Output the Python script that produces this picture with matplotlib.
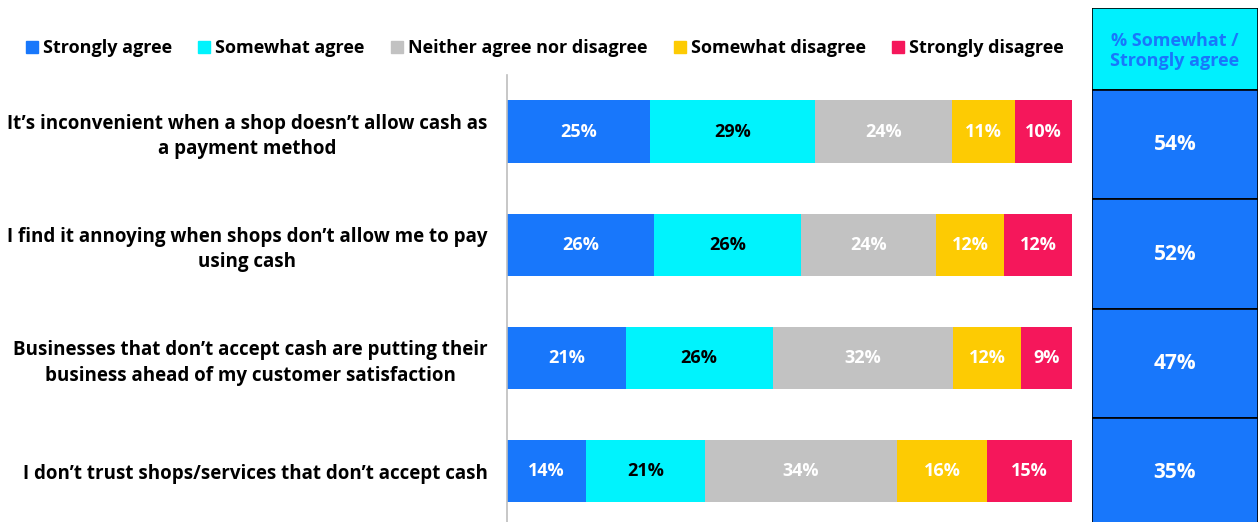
import matplotlib.pyplot as plt
from matplotlib.patches import Rectangle

plt.rcParams['font.family'] = ['Open Sans', 'DejaVu Sans']
plt.rcParams['font.weight'] = 'bold'

statements = [
    "It\u2019s inconvenient when a shop doesn\u2019t allow cash as\na payment method",
    "I find it annoying when shops don\u2019t allow me to pay\nusing cash",
    "Businesses that don\u2019t accept cash are putting their\nbusiness ahead of my customer satisfaction",
    "I don\u2019t trust shops/services that don\u2019t accept cash",
]
responses = ["Strongly agree", "Somewhat agree", "Neither agree nor disagree",
             "Somewhat disagree", "Strongly disagree"]
strongly_agree = [25, 26, 21, 14]
somewhat_agree = [29, 26, 26, 21]
neither = [24, 24, 32, 34]
somewhat_disagree = [11, 12, 12, 16]
strongly_disagree = [10, 12, 9, 15]
agree_total = [54, 52, 47, 35]

colors = ['#1877fb', '#00f3fd', '#c2c2c2', '#fdcb03', '#f5175b']
text_colors = ['white', 'black', 'white', 'white', 'white']

series = [strongly_agree, somewhat_agree, neither, somewhat_disagree, strongly_disagree]
row_sums = [sum(vals) for vals in zip(*series)]

fig = plt.figure(figsize=(12.6, 5.22), dpi=100)

# stacked bars, each row scaled to its own total
ax = fig.add_axes([507 / 1260, 0, 565 / 1260, 447 / 522])
left = [0.0] * len(statements)
for vals, col, tcol in zip(series, colors, text_colors):
    widths = [v / s for v, s in zip(vals, row_sums)]
    ax.barh(range(len(statements)), widths, left=left, height=0.55, color=col)
    for i, (v, w) in enumerate(zip(vals, widths)):
        ax.text(left[i] + w / 2, i, f"{v}%", ha='center', va='center',
                color=tcol, fontsize=13, fontweight='bold')
    left = [l + w for l, w in zip(left, widths)]

ax.set_xlim(0, 1)
ax.set_ylim(3.45, -0.5)
ax.set_xticks([])
ax.set_yticks(range(len(statements)))
ax.set_yticklabels(statements, fontsize=13.5, fontweight='bold')
for lbl in ax.get_yticklabels():
    lbl.set_multialignment('center')
    lbl.set_linespacing(1.35)
ax.tick_params(axis='y', length=0, pad=14)
for side in ['top', 'right', 'bottom']:
    ax.spines[side].set_visible(False)
ax.spines['left'].set_color('#bdbdbd')
ax.spines['left'].set_linewidth(1.2)

# legend across the top
handles = [Rectangle((0, 0), 1, 1, color=c) for c in colors]
fig.legend(handles, responses, loc='center', bbox_to_anchor=(545 / 1260, 1 - 48 / 522),
           ncol=5, frameon=False, handlelength=0.65, handleheight=0.65,
           handletextpad=0.3, columnspacing=1.45,
           prop={'size': 13, 'weight': 'bold'})

# summary column on the right
px = fig.add_axes([1092 / 1260, 0, 166 / 1260, 514 / 522])
px.barh(-0.75, 1, height=0.75, align='edge', color='#00f0fe',
        edgecolor='black', linewidth=1.2)
px.text(0.5, -0.36, "% Somewhat /\nStrongly agree", ha='center', va='center',
        color='#1877fb', fontsize=13, fontweight='bold', linespacing=1.15)
px.barh(range(len(agree_total)), 1, height=1, align='edge', color='#1877fb',
        edgecolor='black', linewidth=1.2)
for i, v in enumerate(agree_total):
    px.text(0.5, i + 0.5, f"{v}%", ha='center', va='center', color='white',
            fontsize=15, fontweight='bold')
px.set_xlim(0, 1)
px.set_ylim(3.95, -0.75)
px.axis('off')

fig.savefig('out.png', dpi=100)
